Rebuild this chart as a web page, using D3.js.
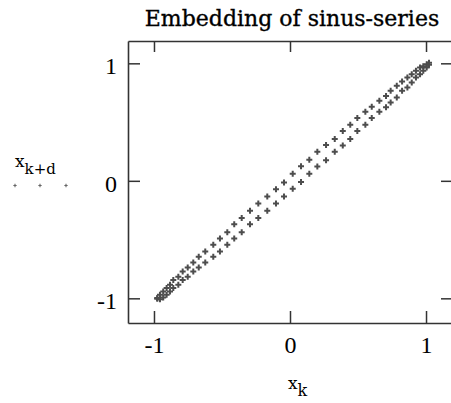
<!DOCTYPE html>
<html>
<head>
<meta charset="utf-8">
<script src="https://cdn.jsdelivr.net/npm/d3@7"></script>
<style>
  body { margin: 0; background: #fff; }
  svg { display: block; }
</style>
</head>
<body>
<div id="chart"></div>
<script>
// x_k values (shared by both halves of the loop)
var xk = [-0.976, -0.956, -0.932, -0.907, -0.882, -0.858, -0.821, -0.789, -0.752, -0.711,
    -0.671, -0.623, -0.564, -0.515, -0.461, -0.410, -0.355, -0.294, -0.233, -0.167,
    -0.103, -0.044, 0.020, 0.081, 0.142, 0.201, 0.265, 0.329, 0.388, 0.443,
    0.495, 0.554, 0.601, 0.657, 0.706, 0.740, 0.785, 0.824, 0.863, 0.895,
    0.926, 0.956, 0.980, 1.005, 1.022];

// x_{k+d} on the upper (rising) half
var xkdUpper = [-0.998, -0.970, -0.942, -0.913, -0.885, -0.845, -0.817, -0.772, -0.738, -0.695,
    -0.647, -0.602, -0.545, -0.491, -0.437, -0.369, -0.317, -0.255, -0.194, -0.134,
    -0.071, -0.014, 0.060, 0.125, 0.179, 0.247, 0.304, 0.355, 0.423, 0.477,
    0.534, 0.587, 0.630, 0.681, 0.721, 0.766, 0.809, 0.845, 0.879, 0.908,
    0.936, 0.964, 0.976, 0.993, 1.004];

// x_{k+d} on the lower (falling) half
var xkdLower = [-1.004, -1.007, -0.993, -0.970, -0.942, -0.913, -0.885, -0.845, -0.817, -0.772,
    -0.738, -0.695, -0.647, -0.602, -0.545, -0.491, -0.437, -0.369, -0.317, -0.255,
    -0.194, -0.134, -0.068, -0.009, 0.060, 0.122, 0.176, 0.247, 0.300, 0.355,
    0.423, 0.477, 0.534, 0.587, 0.627, 0.666, 0.709, 0.766, 0.794, 0.837,
    0.879, 0.908, 0.936, 0.964, 0.987];

var tickValues = [-1, 0, 1];

var W = 451, H = 403;
var box = { left: 128, right: 452, top: 41, bottom: 323 };

var svg = d3.select("#chart").append("svg")
    .attr("width", W)
    .attr("height", H);

var x = d3.scaleLinear().domain([-1.191, 1.191]).range([box.left, box.right]);
var y = d3.scaleLinear().domain([-1.21, 1.19]).range([box.bottom, box.top]);

// build the point list from both halves
var points = [];
xk.forEach(function (v, i) {
    points.push([v, xkdUpper[i]]);
    points.push([v, xkdLower[i]]);
});

// Title
svg.append("text")
    .attr("x", 292)
    .attr("y", 26)
    .attr("text-anchor", "middle")
    .style("font-family", "'DejaVu Serif', serif")
    .style("font-size", "22px")
    .style("fill", "#000")
    .style("stroke", "#000")
    .style("stroke-width", "0.35px")
    .text("Embedding of sinus-series");

// Axes with inward ticks
function styleAxis(g) {
    g.selectAll(".domain").attr("stroke", "#333").attr("stroke-width", 1.6);
    g.selectAll(".tick line").attr("stroke", "#333").attr("stroke-width", 1.5);
    g.selectAll(".tick text")
        .style("font-family", "'Liberation Serif', serif")
        .style("font-size", "24px")
        .attr("fill", "#000");
}

var fmt = function (d) { return d < 0 ? "-" + Math.abs(d) : String(d); };

svg.append("g")
    .attr("transform", "translate(0," + box.bottom + ")")
    .call(d3.axisBottom(x).tickValues(tickValues).tickSize(-12).tickSizeOuter(0)
        .tickPadding(13).tickFormat(fmt))
    .call(styleAxis);

svg.append("g")
    .attr("transform", "translate(0," + box.top + ")")
    .call(d3.axisTop(x).tickValues(tickValues).tickSize(-11).tickSizeOuter(0).tickFormat(""))
    .call(styleAxis);

svg.append("g")
    .attr("transform", "translate(" + box.left + ",0)")
    .call(d3.axisLeft(y).tickValues(tickValues).tickSize(-12).tickSizeOuter(0)
        .tickPadding(11).tickFormat(fmt))
    .call(styleAxis)
    .selectAll(".tick text").attr("dy", "0.43em");

svg.append("g")
    .attr("transform", "translate(" + box.right + ",0)")
    .call(d3.axisRight(y).tickValues(tickValues).tickSize(-11).tickSizeOuter(0).tickFormat(""))
    .call(styleAxis);

// Points as small crosses
var cross = d3.symbol().type(d3.symbolCross).size(20);
svg.append("g")
    .selectAll("path")
    .data(points)
    .enter().append("path")
    .attr("d", cross)
    .attr("transform", function (d) { return "translate(" + x(d[0]) + "," + y(d[1]) + ")"; })
    .attr("fill", "#4d4d4d");

// x-axis label x_k
var xl = svg.append("text")
    .attr("x", 288)
    .attr("y", 389)
    .style("font-family", "'DejaVu Serif', serif")
    .style("font-size", "17px")
    .attr("fill", "#000");
xl.append("tspan").text("x");
xl.append("tspan").attr("dy", 7).style("font-size", "16px").text("k");

// y label x_{k+d} with legend trace
var yl = svg.append("text")
    .attr("x", 15)
    .attr("y", 167)
    .style("font-family", "'DejaVu Serif', serif")
    .style("font-size", "17px")
    .attr("fill", "#000");
yl.append("tspan").text("x");
yl.append("tspan").attr("dy", 7).style("font-size", "15px").text("k+d");

var small = d3.symbol().type(d3.symbolCross).size(6);
svg.append("g")
    .selectAll("path")
    .data([15, 40, 66])
    .enter().append("path")
    .attr("d", small)
    .attr("transform", function (d) { return "translate(" + d + ",185.5)"; })
    .attr("fill", "#666");
</script>
</body>
</html>
